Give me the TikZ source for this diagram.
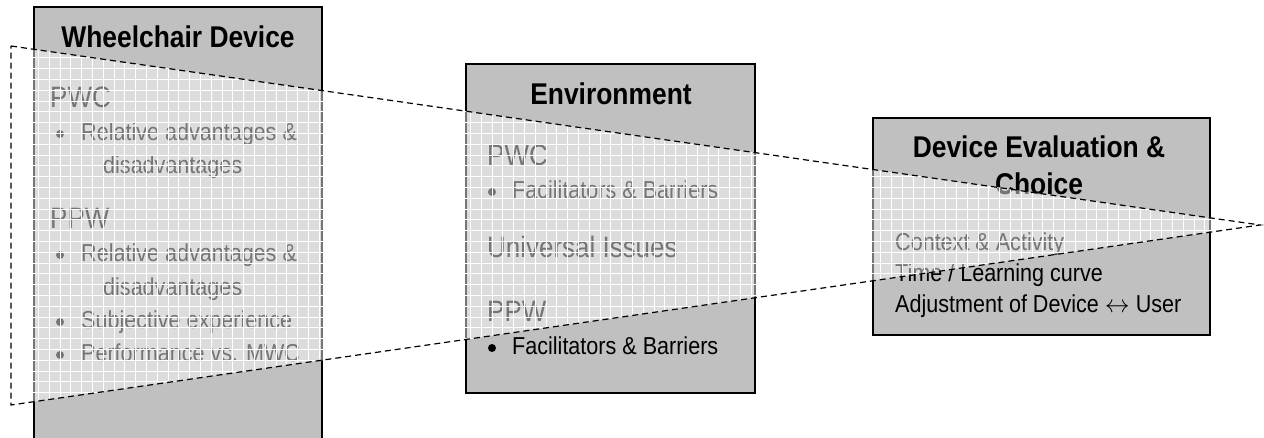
\documentclass[tikz,border=0pt]{standalone}
\usepackage{fontspec}
\setmainfont[FakeStretch=0.88]{Liberation Sans}
\definecolor{panelgray}{HTML}{C0C0C0}
\tikzset{
  panel/.style={draw=black, line width=1.6pt, fill=panelgray, inner sep=0pt, outer sep=0pt, anchor=north west},
  heading/.style={font=\fontsize{30}{34}\bfseries\selectfont, inner sep=0pt, anchor=base},
  subhead/.style={font=\fontsize{29.5}{34}\selectfont, inner sep=0pt, anchor=base west},
  item/.style={font=\fontsize{24.5}{29}\selectfont, inner sep=0pt, anchor=base west},
  dot/.style={fill=black},
  veil/.style={fill=white, opacity=0.46},
  gridline/.style={draw=white, line width=0.7pt},
  funnel/.style={draw=black, line width=1.2pt, dash pattern=on 6pt off 4pt}
}
\begin{document}
\begin{tikzpicture}[x=1pt,y=-1pt]
\useasboundingbox (0,0) rectangle (1264,438);
\clip (0,0) rectangle (1264,438);

% three panels
\node[panel, minimum width=288pt, minimum height=460pt] (wheel) at (34,7) {};
\node[panel, minimum width=289pt, minimum height=329pt] (env) at (466,64) {};
\node[panel, minimum width=337pt, minimum height=217pt] (eval) at (873,118) {};

% Wheelchair Device panel
\node[heading] (wheel-title) at (178,48) {Wheelchair Device};
\node[subhead] (wheel-pwc) at (50,108) {PWC};
\fill[dot] (60,134) circle (4pt);
\node[item] (wheel-pwc-a) at (81,141) {Relative advantages \&};
\node[item] (wheel-pwc-b) at (103,174) {disadvantages};
\node[subhead] (wheel-ppw) at (50,229) {PPW};
\fill[dot] (60,255) circle (4pt);
\node[item] (wheel-ppw-a) at (81,262) {Relative advantages \&};
\node[item] (wheel-ppw-b) at (103,296) {disadvantages};
\fill[dot] (60,322) circle (4pt);
\node[item] (wheel-ppw-c) at (81,329) {Subjective experience};
\fill[dot] (60,355) circle (4pt);
\node[item] (wheel-ppw-d) at (81,362) {Performance vs. MWC};

% Environment panel
\node[heading] (env-title) at (611,105) {Environment};
\node[subhead] (env-pwc) at (487,166) {PWC};
\fill[dot] (492,192) circle (4pt);
\node[item] (env-pwc-a) at (512,199) {Facilitators \& Barriers};
\node[subhead] (env-uni) at (487,258) {Universal Issues};
\node[subhead] (env-ppw) at (487,322) {PPW};
\fill[dot] (492,348) circle (4pt);
\node[item] (env-ppw-a) at (512,355) {Facilitators \& Barriers};

% Device Evaluation & Choice panel
\node[heading] (eval-title-a) at (1039,158) {Device Evaluation \&};
\node[heading] (eval-title-b) at (1039,195) {Choice};
\node[item] (eval-a) at (895,251) {Context \& Activity};
\node[item] (eval-b) at (895,282) {Time / Learning curve};
\node[item] (eval-c) at (895,313) {Adjustment of Device $\leftrightarrow$ User};

% funnel overlay
\coordinate (ftop) at (11,46);
\coordinate (fbot) at (11,405);
\coordinate (fapex) at (1260,225);
\fill[veil] (ftop) -- (fapex) -- (fbot) -- cycle;
\begin{scope}
  \clip (ftop) -- (fapex) -- (fbot) -- cycle;
  \foreach \i in {0,...,117} {
    \draw[gridline] ({6+\i*10.8},0) -- ({6+\i*10.8},438);
  }
  \foreach \j in {0,...,41} {
    \draw[gridline] (0,{3.7+\j*10.8}) -- (1264,{3.7+\j*10.8});
  }
\end{scope}
\draw[funnel] (ftop) -- (fapex) -- (fbot) -- cycle;
\end{tikzpicture}
\end{document}
